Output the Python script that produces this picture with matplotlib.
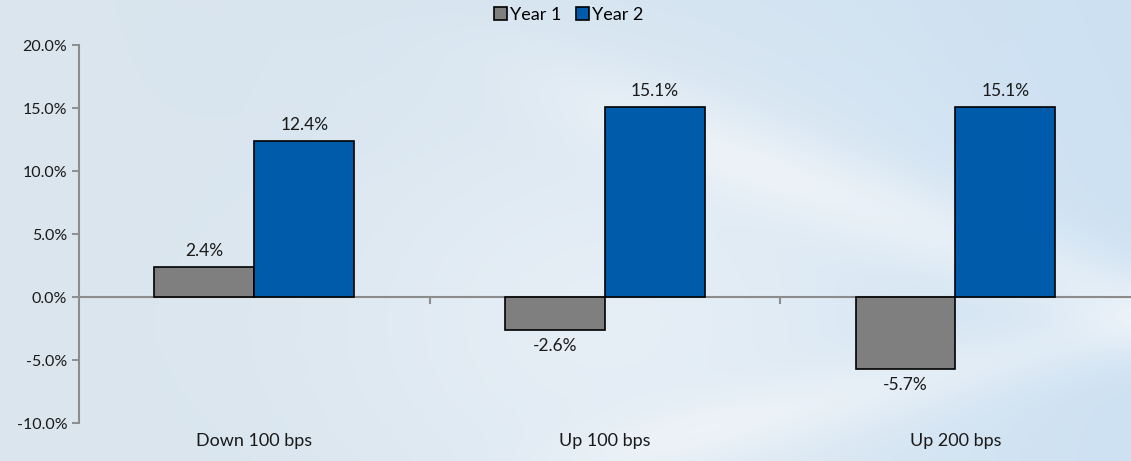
import numpy as np
import matplotlib.pyplot as plt
from matplotlib.ticker import FuncFormatter
from matplotlib.patches import Patch

scenarios = ['Down 100 bps', 'Up 100 bps', 'Up 200 bps']
year1 = [2.4, -2.6, -5.7]
year2 = [12.4, 15.1, 15.1]
y_ticks = [-10, -5, 0, 5, 10, 15, 20]

plt.rcParams['font.family'] = ['Lato', 'DejaVu Sans']

fig = plt.figure(figsize=(11.31, 4.61), dpi=100)

# soft blue backdrop with a couple of pale swooshes
bg = fig.add_axes([0, 0, 1, 1], zorder=-10)
h, w = 461, 1131
yy, xx = np.mgrid[0:h, 0:w] / np.array([h, w])[:, None, None]
c_left = np.array([0.86, 0.90, 0.93])
c_right = np.array([0.80, 0.88, 0.95])
t = xx[..., None]
base = c_left * (1 - t) + c_right * t
fade = 1 / (1 + np.exp(-(xx - 0.5) / 0.05))
glow = np.exp(-((xx - 0.55) ** 2) / 0.08 - ((yy - 0.7) ** 2) / 0.3)
swoosh = np.exp(-((yy - (0.25 + 0.9 * (xx - 0.55))) ** 2) / 0.01) * fade
swoosh2 = np.exp(-((yy - (0.95 - 0.6 * (xx - 0.6))) ** 2) / 0.006) * fade
light = np.clip(0.55 * glow + 0.45 * swoosh + 0.35 * swoosh2, 0, 1)[..., None]
img = base * (1 - light) + np.array([0.96, 0.97, 0.98]) * light
bg.imshow(img, aspect='auto', extent=[0, 1, 0, 1])
bg.axis('off')

ax = fig.add_axes([0.0698, 0.082, 0.93, 0.82])
ax.patch.set_alpha(0)

x = np.arange(len(scenarios))
bw = 0.285
b1 = ax.bar(x - bw / 2, year1, bw, color='#7f7f7f', edgecolor='black', linewidth=1.2, label='Year 1')
b2 = ax.bar(x + bw / 2, year2, bw, color='#005bab', edgecolor='black', linewidth=1.2, label='Year 2')

for bars, vals in ((b1, year1), (b2, year2)):
    for rect, v in zip(bars, vals):
        cx = rect.get_x() + rect.get_width() / 2
        if v >= 0:
            ax.annotate(f'{v:.1f}%', (cx, v), xytext=(0, 6), textcoords='offset points',
                        ha='center', va='bottom', fontsize=12.5, color='#1a1a1a')
        else:
            ax.annotate(f'{v:.1f}%', (cx, v), xytext=(0, -6), textcoords='offset points',
                        ha='center', va='top', fontsize=12.5, color='#1a1a1a')

ax.set_ylim(-10, 20)
ax.set_xlim(-0.5, 2.5)
ax.set_yticks(y_ticks)
ax.yaxis.set_major_formatter(FuncFormatter(lambda v, p: f'{v:.1f}%'))
ax.tick_params(axis='y', labelsize=11.5, colors='#7f7f7f', labelcolor='#1a1a1a', length=5, width=1.2)

for s in ('top', 'right', 'bottom'):
    ax.spines[s].set_visible(False)
ax.spines['left'].set_color('#8c8c8c')
ax.spines['left'].set_linewidth(1.5)
ax.axhline(0, color='#8c8c8c', linewidth=1.5, zorder=0)

# category labels along the bottom, separators hanging off the zero line
ax.set_xticks([])
for i, name in enumerate(scenarios):
    ax.text(i, -11.4, name, ha='center', va='center', fontsize=13, color='#1a1a1a')
for b in (0.5, 1.5):
    ax.plot([b, b], [0, -0.45], color='#8c8c8c', linewidth=1.5)

handles = [Patch(facecolor='#7f7f7f', edgecolor='black', linewidth=1.2, label='Year 1'),
           Patch(facecolor='#005bab', edgecolor='black', linewidth=1.2, label='Year 2')]
fig.legend(handles=handles, loc='upper center', bbox_to_anchor=(0.503, 1.02), ncol=2,
           frameon=False, fontsize=13, handlelength=0.7, handleheight=0.7,
           handletextpad=0.2, columnspacing=0.8)

fig.savefig('out.png', dpi=100)
